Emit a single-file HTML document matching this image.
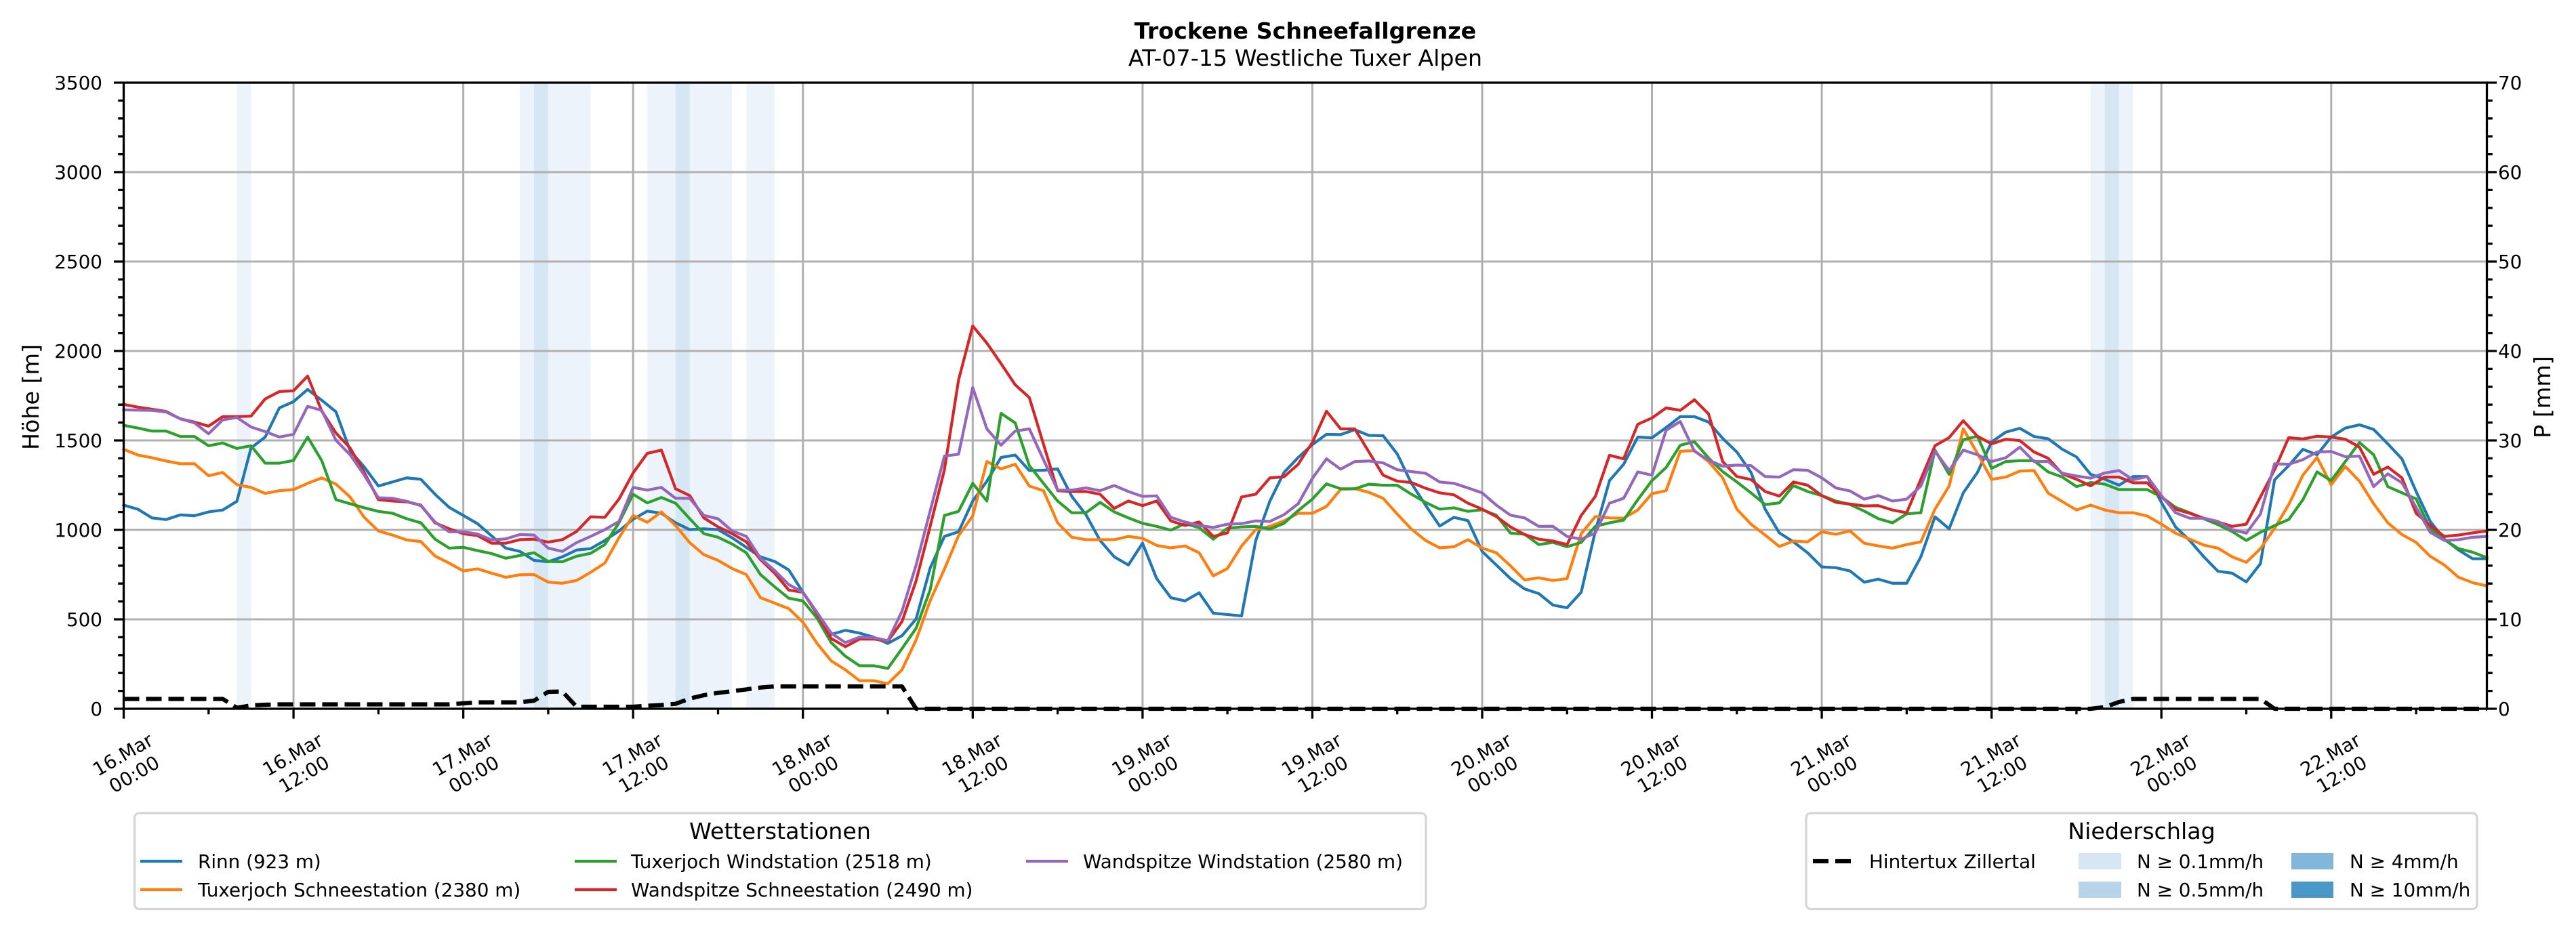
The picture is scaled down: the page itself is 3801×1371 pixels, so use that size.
<!DOCTYPE html>
<html><head><meta charset="utf-8"><style>
html,body{margin:0;padding:0;background:#fff;}
svg{display:block;}
text{font-family:"DejaVu Sans","Liberation Sans",sans-serif;fill:#000;}
.t{font-size:27.8px;}
.lb{font-size:33.3px;}
</style></head><body>
<svg width="3801" height="1371" viewBox="0 0 3801 1371" xmlns="http://www.w3.org/2000/svg">
<rect x="0" y="0" width="3801" height="1371" fill="#fff"/>
<!-- precipitation bands -->
<g fill="#ecf3fa">
<rect x="349.5" y="122" width="20.9" height="924"/>
<rect x="767.1" y="122" width="104.4" height="924"/>
<rect x="955.1" y="122" width="125.2" height="924"/>
<rect x="1101.2" y="122" width="41.8" height="924"/>
<rect x="3084.8" y="122" width="62.7" height="924"/>
</g>
<g fill="#d6e6f3">
<rect x="788" y="122" width="20.9" height="924"/>
<rect x="996.8" y="122" width="20.9" height="924"/>
<rect x="3105.7" y="122" width="20.9" height="924"/>
</g>
<!-- grid -->
<g stroke="#b0b0b0" stroke-width="3" fill="none">
<path d="M182.5,914H3669.5M182.5,782H3669.5M182.5,650H3669.5M182.5,518H3669.5M182.5,386H3669.5M182.5,254H3669.5"/>
<path d="M433.1,122V1046M683.6,122V1046M934.2,122V1046M1184.7,122V1046M1435.3,122V1046M1685.9,122V1046M1936.4,122V1046M2187,122V1046M2437.5,122V1046M2688.1,122V1046M2938.7,122V1046M3189.2,122V1046M3439.8,122V1046"/>
</g>
<!-- series -->
<g transform="matrix(20.88,0,0,0.40177,182.5,420)" fill="none" stroke-width="4.2" stroke-linejoin="round" stroke-linecap="square">
<polyline vector-effect="non-scaling-stroke" stroke="#1f77b4" points="0,810 1,825 2,857 3,863 4,846 5,849 6,835 7,828 8,796 9,600 10,560 11,453 12,430 13,385 14,425 15,467 16,610 17,670 18,740 19,725 20,710 21,715 22,770 23,818 24,848 25,878 26,923 27,968 28,980 29,1013 30,1018 31,1000 32,975 33,970 34,940 35,905 36,862 37,832 38,840 39,875 40,900 41,897 42,900 43,930 44,965 45,1000 46,1017 47,1048 48,1130 49,1205 50,1285 51,1270 52,1280 53,1295 54,1318 55,1290 56,1228 57,1040 58,925 59,908 60,795 61,722 62,635 63,626 64,683 65,682 66,677 67,778 68,845 69,940 70,1000 71,1030 72,950 73,1080 74,1150 75,1162 76,1132 77,1207 78,1212 79,1217 80,940 81,795 82,690 83,635 84,588 85,550 86,551 87,533 88,554 89,555 90,622 91,730 92,810 93,887 94,855 95,867 96,980 97,1030 98,1080 99,1118 100,1135 101,1177 102,1187 103,1130 104,905 105,720 106,660 107,560 108,563 109,525 110,485 111,485 112,505 113,565 114,615 115,690 116,825 117,912 118,945 119,985 120,1037 121,1040 122,1052 123,1093 124,1082 125,1097 126,1097 127,1000 128,853 129,897 130,765 131,690 132,578 133,542 134,528 135,558 136,566 137,605 138,633 139,697 140,715 141,737 142,705 143,705 144,800 145,890 146,940 147,1000 148,1053 149,1060 150,1092 151,1025 152,717 153,665 154,605 155,625 156,560 157,527 158,515 159,532 160,585 161,640 162,760 163,870 164,935 165,975 166,1007 167,1007"/>
<polyline vector-effect="non-scaling-stroke" stroke="#ff7f0e" points="0,605 1,626 2,636 3,648 4,658 5,658 6,702 7,690 8,735 9,745 10,767 11,757 12,753 13,730 14,710 15,733 16,780 17,855 18,905 19,920 20,938 21,944 22,997 23,1023 24,1052 25,1044 26,1060 27,1075 28,1066 29,1065 30,1093 31,1097 32,1087 33,1057 34,1023 35,930 36,848 37,873 38,835 39,885 40,948 41,992 42,1013 43,1043 44,1065 45,1150 46,1170 47,1190 48,1240 49,1318 50,1382 51,1415 52,1455 53,1455 54,1466 55,1415 56,1305 57,1160 58,1045 59,922 60,850 61,650 62,677 63,660 64,740 65,757 66,875 67,928 68,937 69,937 70,937 71,925 72,932 73,958 74,967 75,960 76,985 77,1070 78,1043 79,960 80,900 81,888 82,868 83,840 84,840 85,815 86,752 87,750 88,763 89,785 90,843 91,898 92,940 93,967 94,963 95,937 96,968 97,985 98,1033 99,1085 100,1077 101,1087 102,1080 103,915 104,852 105,857 106,858 107,828 108,768 109,757 110,612 111,610 112,650 113,710 114,825 115,880 116,920 117,962 118,942 119,945 120,908 121,917 122,905 123,950 124,960 125,968 126,955 127,945 128,825 129,740 130,530 131,620 132,715 133,707 134,685 135,683 136,766 137,797 138,828 139,810 140,828 141,838 142,838 143,850 144,880 145,913 146,935 147,957 148,968 149,1000 150,1020 151,970 152,895 153,808 154,700 155,635 156,735 157,668 158,722 159,805 160,875 161,918 162,947 163,998 164,1030 165,1075 166,1095 167,1107"/>
<polyline vector-effect="non-scaling-stroke" stroke="#2ca02c" points="0,517 1,527 2,538 3,538 4,558 5,558 6,592 7,582 8,602 9,592 10,656 11,656 12,646 13,560 14,647 15,790 16,805 17,820 18,833 19,840 20,860 21,875 22,935 23,968 24,965 25,977 26,988 27,1005 28,995 29,985 30,1017 31,1018 32,998 33,987 34,955 35,875 36,770 37,802 38,782 39,803 40,860 41,915 42,928 43,953 44,985 45,1065 46,1110 47,1152 48,1162 49,1225 50,1315 51,1365 52,1400 53,1400 54,1410 55,1337 56,1262 57,1120 58,848 59,833 60,730 61,795 62,473 63,508 64,665 65,730 66,795 67,838 68,838 69,800 70,835 71,857 72,877 73,888 74,902 75,878 76,893 77,935 78,895 79,890 80,888 81,898 82,877 83,830 84,788 85,732 86,750 87,750 88,733 89,737 90,737 91,770 92,800 93,825 94,820 95,833 96,827 97,847 98,913 99,917 100,955 101,947 102,963 103,947 104,888 105,875 106,865 107,790 108,720 109,672 110,590 111,577 112,637 113,687 114,725 115,765 116,808 117,802 118,738 119,760 120,775 121,795 122,808 123,832 124,860 125,875 126,842 127,838 128,608 129,697 130,570 131,557 132,675 133,650 134,647 135,647 136,688 137,707 138,742 139,727 140,733 141,753 142,753 143,753 144,780 145,818 146,838 147,860 148,882 149,907 150,940 151,910 152,885 153,863 154,790 155,688 156,720 157,650 158,580 159,625 160,742 161,765 162,787 163,897 164,937 165,970 166,983 167,1003"/>
<polyline vector-effect="non-scaling-stroke" stroke="#d62728" points="0,440 1,450 2,458 3,466 4,493 5,505 6,520 7,485 8,485 9,483 10,420 11,393 12,390 13,336 14,465 15,545 16,600 17,690 18,790 19,795 20,798 21,810 22,875 23,897 24,915 25,922 26,950 27,950 28,937 29,935 30,946 31,937 32,907 33,853 34,855 35,788 36,692 37,620 38,608 39,750 40,775 41,857 42,890 43,915 44,945 45,1010 46,1060 47,1122 48,1130 49,1210 50,1300 51,1330 52,1302 53,1302 54,1310 55,1238 56,1088 57,886 58,680 59,350 60,152 61,215 62,290 63,368 64,415 65,586 66,757 67,760 68,760 69,770 70,822 71,795 72,812 73,795 74,868 75,885 76,872 77,925 78,912 79,780 80,770 81,710 82,706 83,660 84,580 85,465 86,530 87,530 88,615 89,700 90,722 91,727 92,748 93,765 94,772 95,803 96,825 97,852 98,890 99,918 100,935 101,942 102,955 103,848 104,778 105,627 106,640 107,513 108,490 109,453 110,462 111,423 112,475 113,650 114,705 115,716 116,760 117,777 118,725 119,737 120,775 121,800 122,806 123,813 124,812 125,828 126,838 127,715 128,592 129,562 130,500 131,557 132,585 133,568 134,573 135,615 136,638 137,695 138,715 139,739 140,707 141,707 142,728 143,728 144,780 145,825 146,840 147,858 148,872 149,888 150,880 151,780 152,680 153,562 154,567 155,557 156,560 157,568 158,597 159,697 160,670 161,710 162,840 163,885 164,925 165,920 166,912 167,905"/>
<polyline vector-effect="non-scaling-stroke" stroke="#9467bd" points="0,460 1,461 2,462 3,468 4,493 5,508 6,548 7,497 8,488 9,523 10,540 11,560 12,550 13,447 14,462 15,572 16,625 17,700 18,783 19,785 20,796 21,812 22,872 23,908 24,908 25,916 26,938 27,934 28,918 29,920 30,968 31,980 32,948 33,925 34,900 35,870 36,745 37,755 38,745 39,785 40,785 41,848 42,860 43,905 44,925 45,1005 46,1050 47,1102 48,1130 49,1205 50,1280 51,1315 52,1295 53,1297 54,1308 55,1200 56,1030 57,830 58,630 59,623 60,378 61,530 62,590 63,538 64,530 65,643 66,755 67,755 68,747 69,757 70,738 71,760 72,778 73,776 74,855 75,872 76,885 77,892 78,880 79,878 80,868 81,870 82,845 83,805 84,712 85,640 86,678 87,650 88,648 89,655 90,680 91,687 92,693 93,725 94,730 95,747 96,765 97,810 98,847 99,857 100,888 101,888 102,925 103,935 104,912 105,803 106,785 107,688 108,700 109,535 110,503 111,612 112,645 113,667 114,663 115,665 116,705 117,707 118,680 119,682 120,710 121,747 122,758 123,788 124,775 125,795 126,788 127,740 128,612 129,683 130,608 131,625 132,650 133,636 134,597 135,650 136,650 137,693 138,703 139,711 140,692 141,683 142,717 143,705 144,775 145,838 146,858 147,858 148,870 149,900 150,913 151,843 152,658 153,660 154,643 155,615 156,613 157,632 158,630 159,742 160,695 161,728 162,818 163,910 164,940 165,937 166,928 167,925"/>
</g>
<!-- axes spines -->
<rect x="182.5" y="122" width="3487" height="924" fill="none" stroke="#000" stroke-width="3.3"/>
<!-- precipitation dashed -->
<polyline fill="none" stroke="#000" stroke-width="6.2" stroke-dasharray="23 10" stroke-linejoin="round" points="182.5,1031.5 328.7,1031.5 349.5,1044.5 370.4,1041 391.3,1040 412.2,1039.5 662.7,1039.5 683.6,1038 704.5,1036.5 767.1,1036.5 788,1034 808.9,1021 829.8,1020.5 850.7,1043 934.2,1043 955.1,1041.5 976,1040.5 996.8,1038.7 1017.7,1031 1038.6,1026 1059.5,1022.6 1080.3,1020 1101.2,1017.4 1122.1,1014.6 1143,1013 1330.9,1013 1351.8,1046 3084.8,1046 3105.7,1043.5 3126.6,1036 3147.5,1031.5 3335.4,1031.5 3356.3,1046 3669.5,1046"/>
<!-- ticks -->
<g stroke="#000" stroke-width="3.3" fill="none">
<path d="M168,1046H182.5M168,914H182.5M168,782H182.5M168,650H182.5M168,518H182.5M168,386H182.5M168,254H182.5M168,122H182.5"/>
<path d="M3669.5,1046H3684M3669.5,914H3684M3669.5,782H3684M3669.5,650H3684M3669.5,518H3684M3669.5,386H3684M3669.5,254H3684M3669.5,122H3684"/>
<path d="M174.2,1019.6H182.5M174.2,993.2H182.5M174.2,966.8H182.5M174.2,940.4H182.5M174.2,887.6H182.5M174.2,861.2H182.5M174.2,834.8H182.5M174.2,808.4H182.5M174.2,755.6H182.5M174.2,729.2H182.5M174.2,702.8H182.5M174.2,676.4H182.5M174.2,623.6H182.5M174.2,597.2H182.5M174.2,570.8H182.5M174.2,544.4H182.5M174.2,491.6H182.5M174.2,465.2H182.5M174.2,438.8H182.5M174.2,412.4H182.5M174.2,359.6H182.5M174.2,333.2H182.5M174.2,306.8H182.5M174.2,280.4H182.5M174.2,227.6H182.5M174.2,201.2H182.5M174.2,174.8H182.5M174.2,148.4H182.5"/>
<path d="M3669.5,1019.6H3677.8M3669.5,993.2H3677.8M3669.5,966.8H3677.8M3669.5,940.4H3677.8M3669.5,887.6H3677.8M3669.5,861.2H3677.8M3669.5,834.8H3677.8M3669.5,808.4H3677.8M3669.5,755.6H3677.8M3669.5,729.2H3677.8M3669.5,702.8H3677.8M3669.5,676.4H3677.8M3669.5,623.6H3677.8M3669.5,597.2H3677.8M3669.5,570.8H3677.8M3669.5,544.4H3677.8M3669.5,491.6H3677.8M3669.5,465.2H3677.8M3669.5,438.8H3677.8M3669.5,412.4H3677.8M3669.5,359.6H3677.8M3669.5,333.2H3677.8M3669.5,306.8H3677.8M3669.5,280.4H3677.8M3669.5,227.6H3677.8M3669.5,201.2H3677.8M3669.5,174.8H3677.8M3669.5,148.4H3677.8"/>
<path d="M182.5,1046V1060.6M433.1,1046V1060.6M683.6,1046V1060.6M934.2,1046V1060.6M1184.7,1046V1060.6M1435.3,1046V1060.6M1685.9,1046V1060.6M1936.4,1046V1060.6M2187,1046V1060.6M2437.5,1046V1060.6M2688.1,1046V1060.6M2938.7,1046V1060.6M3189.2,1046V1060.6M3439.8,1046V1060.6"/>
<path d="M307.8,1046V1054.3M558.4,1046V1054.3M808.9,1046V1054.3M1059.5,1046V1054.3M1310,1046V1054.3M1560.6,1046V1054.3M1811.1,1046V1054.3M2061.7,1046V1054.3M2312.3,1046V1054.3M2562.8,1046V1054.3M2813.4,1046V1054.3M3063.9,1046V1054.3M3314.5,1046V1054.3M3565.1,1046V1054.3"/>
</g>
<!-- y tick labels -->
<g class="t" text-anchor="end">
<text x="151" y="1056">0</text><text x="151" y="924">500</text><text x="151" y="792">1000</text><text x="151" y="660">1500</text><text x="151" y="528">2000</text><text x="151" y="396">2500</text><text x="151" y="264">3000</text><text x="151" y="132">3500</text>
</g>
<g class="t" text-anchor="start">
<text x="3686" y="1056">0</text><text x="3686" y="924">10</text><text x="3686" y="792">20</text><text x="3686" y="660">30</text><text x="3686" y="528">40</text><text x="3686" y="396">50</text><text x="3686" y="264">60</text><text x="3686" y="132">70</text>
</g>
<!-- x tick labels -->
<g class="t" text-anchor="middle">
<g transform="translate(189.5,1128) rotate(-30)"><text y="-6.7">16.Mar</text><text y="26.7">00:00</text></g>
<g transform="translate(440.1,1128) rotate(-30)"><text y="-6.7">16.Mar</text><text y="26.7">12:00</text></g>
<g transform="translate(690.6,1128) rotate(-30)"><text y="-6.7">17.Mar</text><text y="26.7">00:00</text></g>
<g transform="translate(941.2,1128) rotate(-30)"><text y="-6.7">17.Mar</text><text y="26.7">12:00</text></g>
<g transform="translate(1191.7,1128) rotate(-30)"><text y="-6.7">18.Mar</text><text y="26.7">00:00</text></g>
<g transform="translate(1442.3,1128) rotate(-30)"><text y="-6.7">18.Mar</text><text y="26.7">12:00</text></g>
<g transform="translate(1692.9,1128) rotate(-30)"><text y="-6.7">19.Mar</text><text y="26.7">00:00</text></g>
<g transform="translate(1943.4,1128) rotate(-30)"><text y="-6.7">19.Mar</text><text y="26.7">12:00</text></g>
<g transform="translate(2194,1128) rotate(-30)"><text y="-6.7">20.Mar</text><text y="26.7">00:00</text></g>
<g transform="translate(2444.5,1128) rotate(-30)"><text y="-6.7">20.Mar</text><text y="26.7">12:00</text></g>
<g transform="translate(2695.1,1128) rotate(-30)"><text y="-6.7">21.Mar</text><text y="26.7">00:00</text></g>
<g transform="translate(2945.7,1128) rotate(-30)"><text y="-6.7">21.Mar</text><text y="26.7">12:00</text></g>
<g transform="translate(3196.2,1128) rotate(-30)"><text y="-6.7">22.Mar</text><text y="26.7">00:00</text></g>
<g transform="translate(3446.8,1128) rotate(-30)"><text y="-6.7">22.Mar</text><text y="26.7">12:00</text></g>
</g>
<!-- axis labels -->
<text class="lb" transform="translate(57,586) rotate(-90)" text-anchor="middle">Höhe [m]</text>
<text class="lb" transform="translate(3763,586) rotate(-90)" text-anchor="middle">P [mm]</text>
<!-- titles -->
<text class="lb" x="1926" y="57" text-anchor="middle" font-weight="bold">Trockene Schneefallgrenze</text>
<text class="lb" x="1926" y="97" text-anchor="middle">AT-07-15 Westliche Tuxer Alpen</text>
<!-- legend 1 -->
<rect x="198.5" y="1200" width="1905.5" height="141.5" rx="7" ry="7" fill="#fff" stroke="#d5d5d5" stroke-width="3.3"/>
<text class="lb" x="1151" y="1238" text-anchor="middle">Wetterstationen</text>
<g stroke-width="4.2" fill="none">
<path d="M207,1271H269" stroke="#1f77b4"/>
<path d="M207,1313H269" stroke="#ff7f0e"/>
<path d="M848,1271H910" stroke="#2ca02c"/>
<path d="M848,1313H910" stroke="#d62728"/>
<path d="M1514,1271H1576" stroke="#9467bd"/>
</g>
<g class="t">
<text x="292" y="1281">Rinn (923 m)</text>
<text x="292" y="1323">Tuxerjoch Schneestation (2380 m)</text>
<text x="931" y="1281">Tuxerjoch Windstation (2518 m)</text>
<text x="931" y="1323">Wandspitze Schneestation (2490 m)</text>
<text x="1598" y="1281">Wandspitze Windstation (2580 m)</text>
</g>
<!-- legend 2 -->
<rect x="2665" y="1200" width="990" height="141.5" rx="7" ry="7" fill="#fff" stroke="#d5d5d5" stroke-width="3.3"/>
<text class="lb" x="3160" y="1238" text-anchor="middle">Niederschlag</text>
<path d="M2675,1271H2737" stroke="#000" stroke-width="6.2" stroke-dasharray="23 10" fill="none"/>
<rect x="3067" y="1259" width="63" height="24" fill="#d6e6f4"/>
<rect x="3067" y="1301" width="63" height="24" fill="#b7d4ea"/>
<rect x="3381" y="1259" width="62" height="24" fill="#80b7da"/>
<rect x="3381" y="1301" width="62" height="24" fill="#4a97c9"/>
<g class="t">
<text x="2758" y="1281">Hintertux Zillertal</text>
<text x="3153" y="1281">N ≥ 0.1mm/h</text>
<text x="3153" y="1323">N ≥ 0.5mm/h</text>
<text x="3467" y="1281">N ≥ 4mm/h</text>
<text x="3467" y="1323">N ≥ 10mm/h</text>
</g>
</svg>
</body></html>
